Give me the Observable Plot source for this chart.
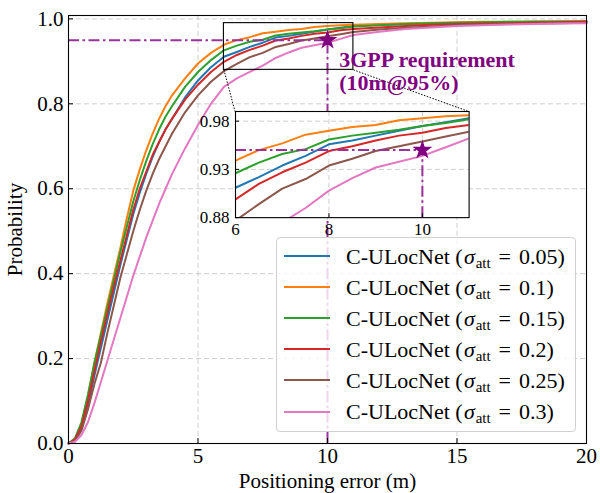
<!DOCTYPE html>
<html><head><meta charset="utf-8">
<script src="https://cdn.jsdelivr.net/npm/d3@7"></script>
<script src="https://cdn.jsdelivr.net/npm/@observablehq/plot@0.6"></script>
<style>
body{margin:0;background:#fff;color:#000;}
#wrap{position:relative;width:600px;height:493px;font-family:"Liberation Serif","Times New Roman",serif;}
#inset{position:absolute;}
#legend{position:absolute;box-sizing:border-box;background:rgba(255,255,255,0.8);border:1px solid #d0d0d0;border-radius:4px;}
.row{position:absolute;left:0;right:0;height:31px;}
.sw{position:absolute;left:7px;width:46px;height:2px;top:14.5px;}
.lt{position:absolute;left:69px;top:0;line-height:31px;font-size:22px;white-space:nowrap;}
.lt i{margin-left:0.06em;margin-right:0.04em;}
.lt sub{font-size:0.68em;vertical-align:-0.3em;line-height:0;}
.lt .eq{margin:0 0.36em;}
</style></head>
<body><div id="wrap"></div>
<script>
// ---------------- data ----------------
const errX = [0,0.25,0.5,0.75,1,1.25,1.5,1.75,2,2.25,2.5,2.75,3,3.25,3.5,3.75,4,4.5,5,5.5,6,6.5,7,7.5,8,8.5,9,9.5,10,10.5,11,12,13,14,15,16,17,18,19,20];
const sigmaLabels = ["0.05","0.1","0.15","0.2","0.25","0.3"];
const seriesColors = ["#1f77b4","#ff7f0e","#2ca02c","#d62728","#8c564b","#e377c2"];
const cdf005 = [0,0.008,0.035,0.09,0.16,0.225,0.29,0.355,0.42,0.48,0.54,0.59,0.635,0.675,0.71,0.74,0.765,0.815,0.855,0.886,0.911,0.922,0.934,0.944,0.956,0.960,0.965,0.970,0.975,0.979,0.983,0.986,0.988,0.990,0.991,0.992,0.992,0.993,0.993,0.994];
const cdf010 = [0,0.01,0.045,0.11,0.19,0.26,0.33,0.395,0.46,0.53,0.595,0.645,0.69,0.73,0.765,0.795,0.82,0.86,0.895,0.92,0.939,0.950,0.957,0.966,0.970,0.974,0.976,0.981,0.983,0.985,0.986,0.988,0.990,0.991,0.992,0.993,0.993,0.994,0.994,0.995];
const cdf015 = [0,0.012,0.05,0.115,0.19,0.255,0.32,0.385,0.45,0.51,0.57,0.62,0.665,0.705,0.74,0.77,0.795,0.84,0.875,0.903,0.926,0.937,0.946,0.951,0.961,0.965,0.968,0.971,0.975,0.978,0.982,0.985,0.988,0.990,0.991,0.992,0.993,0.993,0.994,0.994];
const cdf020 = [0,0.01,0.04,0.1,0.17,0.24,0.305,0.37,0.43,0.49,0.55,0.6,0.64,0.68,0.71,0.74,0.765,0.81,0.845,0.875,0.899,0.915,0.927,0.937,0.949,0.954,0.960,0.965,0.968,0.973,0.976,0.980,0.983,0.986,0.988,0.989,0.990,0.991,0.992,0.993];
const cdf025 = [0,0.006,0.03,0.08,0.14,0.19,0.26,0.325,0.39,0.445,0.5,0.55,0.595,0.635,0.67,0.7,0.73,0.78,0.82,0.852,0.877,0.894,0.910,0.920,0.934,0.941,0.949,0.954,0.959,0.964,0.969,0.975,0.979,0.982,0.985,0.987,0.988,0.989,0.990,0.991];
const cdf030 = [0,0.004,0.02,0.05,0.095,0.145,0.195,0.245,0.295,0.345,0.395,0.44,0.485,0.525,0.565,0.6,0.635,0.695,0.75,0.8,0.84,0.86,0.875,0.890,0.908,0.921,0.932,0.938,0.944,0.953,0.962,0.970,0.976,0.980,0.983,0.985,0.987,0.988,0.989,0.990];
const allSeries = [cdf005, cdf010, cdf015, cdf020, cdf025, cdf030];

const reqX = 10, reqY = 0.95;                 // 3GPP requirement 10 m @ 95 %
const annLines = ["3GPP requirement", "(10m@95%)"];
const annPos = [[10.45, 0.895], [10.45, 0.841]];   // baselines of the two lines
const mainXDomain = [0, 20], mainYDomain = [0, 1.008];
const mainXTicks = [0,5,10,15,20], mainYTicks = [0,0.2,0.4,0.6,0.8,1.0];
const insetXDomain = [6, 11], insetYDomain = [0.88, 0.99];
const insetXTicks = [6,8,10], insetYTicks = [0.88,0.93,0.98];
const insetAtX = [6.43, 15.45], insetAtY = [0.532, 0.782];   // where the inset sits, in main data units

// ---------------- build ----------------
const rows = [];
allSeries.forEach((s, i) => s.forEach((p, j) => rows.push({x: errX[j], p, k: sigmaLabels[i]})));
const annRows = annLines.map((t, i) => ({t, x: annPos[i][0], y: annPos[i][1]}));

const serif = '"Liberation Serif","Times New Roman",serif';
const W = 600, H = 493, mL = 68, mR = 14, mT = 15, mB = 50;
const purple = "#800080", guideColor = "#993399", dashdot = "11,3.5,2.5,3.5";
const grid = {stroke: "#b8b8b8", strokeOpacity: 0.75, strokeDasharray: "5,3", strokeWidth: 0.9};
const colorOpt = {domain: sigmaLabels, range: seriesColors};

const guideH = [{x1: mainXDomain[0], x2: reqX, y: reqY}];
const guideV = [{x: reqX, y1: mainYDomain[0], y2: reqY}];
const star = [{x: reqX, y: reqY}];
const zoomRect = [{x1: insetXDomain[0], x2: insetXDomain[1], y1: insetYDomain[0], y2: insetYDomain[1]}];
const connectors = [
  {x1: insetXDomain[0], y1: insetYDomain[0], x2: insetAtX[0], y2: insetAtY[1]},
  {x1: insetXDomain[1], y1: insetYDomain[0], x2: insetAtX[1], y2: insetAtY[1]}
];

const main = Plot.plot({
  width: W, height: H, marginLeft: mL, marginRight: mR, marginTop: mT, marginBottom: mB,
  style: {fontFamily: serif, fontSize: "21px", background: "transparent", overflow: "visible"},
  x: {domain: mainXDomain}, y: {domain: mainYDomain},
  color: colorOpt,
  marks: [
    Plot.gridX(mainXTicks, grid),
    Plot.gridY(mainYTicks, grid),
    Plot.line(rows, {x: "x", y: "p", stroke: "k", strokeWidth: 2}),
    Plot.ruleY(guideH, {y: "y", x1: "x1", x2: "x2", stroke: guideColor, strokeWidth: 2, strokeDasharray: dashdot}),
    Plot.ruleX(guideV, {x: "x", y1: "y1", y2: "y2", stroke: guideColor, strokeWidth: 2, strokeDasharray: dashdot}),
    Plot.dot(star, {x: "x", y: "y", symbol: "star", r: 4.8, fill: purple, stroke: purple}),
    Plot.rect(zoomRect, {x1: "x1", x2: "x2", y1: "y1", y2: "y2", fill: "none", stroke: "black", strokeWidth: 1.1}),
    Plot.link(connectors, {x1: "x1", y1: "y1", x2: "x2", y2: "y2", stroke: "black", strokeWidth: 1, strokeDasharray: "1.5,1.5"}),
    Plot.text(annRows, {x: "x", y: "y", text: "t", textAnchor: "start", lineAnchor: "bottom", dy: 4, fontSize: 22, fontWeight: "bold", fill: purple}),
    Plot.frame({stroke: "black", strokeWidth: 1.1}),
    Plot.axisX(mainXTicks, {tickSize: 5, dy: -5, tickFormat: () => "", label: null}),
    Plot.axisY(mainYTicks, {tickSize: 5, dx: 5, tickFormat: () => "", label: null}),
    Plot.axisX(mainXTicks, {tickSize: 0, tickPadding: 5, tickFormat: d3.format("d"), fontSize: 21,
      label: "Positioning error (m)", labelAnchor: "center", labelArrow: "none", labelOffset: 44}),
    Plot.axisY(mainYTicks, {tickSize: 0, tickPadding: 5, tickFormat: d3.format(".1f"), fontSize: 21,
      label: "Probability", labelAnchor: "center", labelArrow: "none", labelOffset: 61})
  ]
});
const wrap = document.getElementById("wrap");
wrap.appendChild(main);

// ---------------- inset ----------------
const xMain = d3.scaleLinear(mainXDomain, [mL, W - mR]);
const yMain = d3.scaleLinear(mainYDomain, [H - mB, mT]);
const fL = xMain(insetAtX[0]), fR = xMain(insetAtX[1]), fT = yMain(insetAtY[1]), fB = yMain(insetAtY[0]);
const iL = 42, iR = 4, iT = 4, iB = 28;
const insetGuideH = [{x1: insetXDomain[0], x2: reqX, y: reqY}];
const insetGuideV = [{x: reqX, y1: insetYDomain[0], y2: reqY}];
const inset = Plot.plot({
  width: (fR - fL) + iL + iR, height: (fB - fT) + iT + iB,
  marginLeft: iL, marginRight: iR, marginTop: iT, marginBottom: iB,
  style: {fontFamily: serif, fontSize: "17px", background: "transparent", overflow: "visible"},
  x: {domain: insetXDomain}, y: {domain: insetYDomain},
  color: colorOpt,
  marks: [
    Plot.frame({fill: "white"}),
    Plot.gridX([8, 10], grid),
    Plot.gridY([0.93, 0.98], grid),
    Plot.line(rows, {x: "x", y: "p", stroke: "k", strokeWidth: 2, clip: true}),
    Plot.ruleY(insetGuideH, {y: "y", x1: "x1", x2: "x2", stroke: guideColor, strokeWidth: 2, strokeDasharray: dashdot}),
    Plot.ruleX(insetGuideV, {x: "x", y1: "y1", y2: "y2", stroke: guideColor, strokeWidth: 2, strokeDasharray: dashdot}),
    Plot.dot(star, {x: "x", y: "y", symbol: "star", r: 4.8, fill: purple, stroke: purple}),
    Plot.frame({stroke: "black", strokeWidth: 1.1}),
    Plot.axisX(insetXTicks, {tickSize: 4, dy: -4, tickFormat: () => "", label: null}),
    Plot.axisY(insetYTicks, {tickSize: 4, dx: 4, tickFormat: () => "", label: null}),
    Plot.axisX(insetXTicks, {tickSize: 0, tickPadding: 5, tickFormat: d3.format("d"), fontSize: 17, label: null}),
    Plot.axisY(insetYTicks, {tickSize: 0, tickPadding: 6, tickFormat: d3.format(".2f"), fontSize: 17, label: null})
  ]
});
const insetDiv = document.createElement("div");
insetDiv.id = "inset";
insetDiv.style.left = (fL - iL) + "px";
insetDiv.style.top = (fT - iT) + "px";
insetDiv.appendChild(inset);
wrap.appendChild(insetDiv);

// ---------------- legend ----------------
const legend = document.createElement("div");
legend.id = "legend";
Object.assign(legend.style, {left: "276px", top: "237px", width: "300px", height: "195px"});
sigmaLabels.forEach((s, i) => {
  const r = document.createElement("div");
  r.className = "row";
  r.style.top = (2.5 + i * 31.1) + "px";
  r.innerHTML = `<div class="sw" style="background:${seriesColors[i]}"></div><div class="lt">C-ULocNet (<i>σ</i><sub>att</sub><span class="eq">=</span>${s})</div>`;
  legend.appendChild(r);
});
wrap.appendChild(legend);
</script>
</body></html>
